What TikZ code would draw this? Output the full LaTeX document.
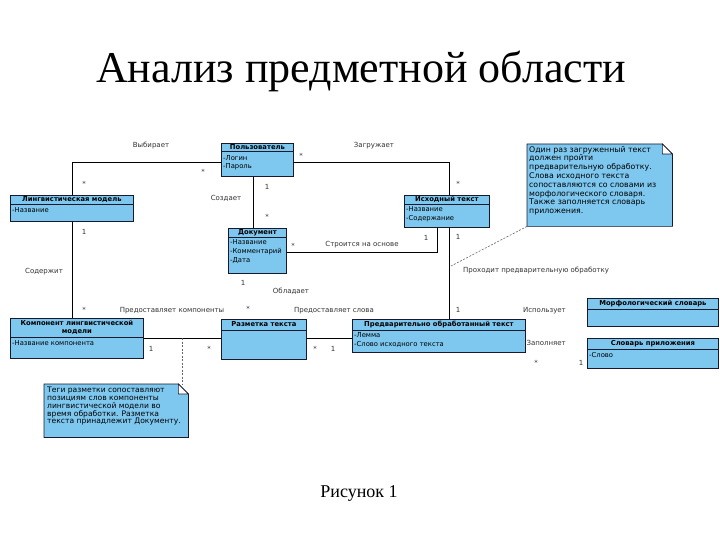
\documentclass[tikz,border=0pt]{standalone}
\usepackage{fontspec}
\setmainfont{Liberation Serif}
\newfontfamily\dvs{DejaVu Sans}
\usetikzlibrary{calc}
\definecolor{umlblue}{RGB}{126,200,240}
\definecolor{umlline}{RGB}{25,25,45}
\begin{document}
\begin{tikzpicture}[x=1pt,y=-1pt,
  cls/.style={draw=umlline,fill=umlblue,line width=0.8pt,inner sep=0pt,anchor=north west},
  hdr/.style={font=\dvs\bfseries\fontsize{6.8}{8}\selectfont,inner sep=0pt,align=center},
  attr/.style={font=\dvs\fontsize{6.8}{8}\selectfont,inner sep=0pt,anchor=west},
  lbl/.style={font=\dvs\fontsize{7}{8}\selectfont,inner sep=0pt,text=black!80},
  conn/.style={line width=0.8pt,draw=black},
  dashconn/.style={draw=black!60,line width=0.6pt,dash pattern=on 2pt off 1.5pt},
  sepline/.style={draw=umlline,line width=0.6pt},
  notebox/.style={inner sep=0pt,anchor=north west},
  notetxt/.style={font=\dvs\fontsize{7.8}{8.8}\selectfont,inner sep=0pt,anchor=north west,align=left}
]
\fill[white] (0,0) rectangle (720,540);
\useasboundingbox (0,0) rectangle (720,540);

% Title and caption
\node[font=\fontsize{44}{48}\selectfont,inner sep=0pt] (title) at (361,71) {Анализ предметной области};
\node[font=\fontsize{18}{20}\selectfont,inner sep=0pt] (cap) at (359,493) {Рисунок 1};

% ---------- classes ----------
% Пользователь
\node[cls,minimum width=72pt,minimum height=33pt] (user) at (221,143) {};
\draw[sepline] ($(user.north west)+(0,8)$) -- ($(user.north east)+(0,8)$);
\node[hdr] (userh) at ($(user.north)+(0,4.2)$) {Пользователь};
\node[attr] (usera1) at ($(user.north west)+(2,15)$) {-Логин};
\node[attr] (usera2) at ($(user.north west)+(2,24)$) {-Пароль};

% Лингвистическая модель
\node[cls,minimum width=123pt,minimum height=26pt] (ling) at (10,195) {};
\draw[sepline] ($(ling.north west)+(0,9)$) -- ($(ling.north east)+(0,9)$);
\node[hdr] (lingh) at ($(ling.north)+(0,4.7)$) {Лингвистическая модель};
\node[attr] (linga1) at ($(ling.north west)+(2,15.5)$) {-Название};

% Исходный текст
\node[cls,minimum width=85pt,minimum height=32pt] (src) at (404,195) {};
\draw[sepline] ($(src.north west)+(0,9)$) -- ($(src.north east)+(0,9)$);
\node[hdr] (srch) at ($(src.north)+(0,4.7)$) {Исходный текст};
\node[attr] (srca1) at ($(src.north west)+(2,14.5)$) {-Название};
\node[attr] (srca2) at ($(src.north west)+(2,23.5)$) {-Содержание};

% Документ
\node[cls,minimum width=58pt,minimum height=45pt] (doc) at (228,228) {};
\draw[sepline] ($(doc.north west)+(0,9)$) -- ($(doc.north east)+(0,9)$);
\node[hdr] (doch) at ($(doc.north)+(0,4.7)$) {Документ};
\node[attr] (doca1) at ($(doc.north west)+(2,14.5)$) {-Название};
\node[attr] (doca2) at ($(doc.north west)+(2,23.5)$) {-Комментарий};
\node[attr] (doca3) at ($(doc.north west)+(2,32.5)$) {-Дата};

% Компонент лингвистической модели
\node[cls,minimum width=133pt,minimum height=40pt] (comp) at (10,318) {};
\draw[sepline] ($(comp.north west)+(0,19)$) -- ($(comp.north east)+(0,19)$);
\node[hdr] (comph) at ($(comp.north)+(0,9.5)$) {Компонент лингвистической\\модели};
\node[attr] (compa1) at ($(comp.north west)+(2,25)$) {-Название компонента};

% Разметка текста
\node[cls,minimum width=85pt,minimum height=40pt] (markup) at (221,319) {};
\draw[sepline] ($(markup.north west)+(0,11)$) -- ($(markup.north east)+(0,11)$);
\node[hdr] (markuph) at ($(markup.north)+(0,5.5)$) {Разметка текста};

% Предварительно обработанный текст
\node[cls,minimum width=173pt,minimum height=33pt] (pre) at (352,319) {};
\draw[sepline] ($(pre.north west)+(0,11)$) -- ($(pre.north east)+(0,11)$);
\node[hdr] (preh) at ($(pre.north)+(0,5.5)$) {Предварительно обработанный текст};
\node[attr] (prea1) at ($(pre.north west)+(2,16)$) {-Лемма};
\node[attr] (prea2) at ($(pre.north west)+(2,25.5)$) {-Слово исходного текста};

% Морфологический словарь
\node[cls,minimum width=131pt,minimum height=28pt] (morph) at (587,298) {};
\draw[sepline] ($(morph.north west)+(0,11)$) -- ($(morph.north east)+(0,11)$);
\node[hdr] (morphh) at ($(morph.north)+(0,5.5)$) {Морфологический словарь};

% Словарь приложения
\node[cls,minimum width=131pt,minimum height=30pt] (dict) at (587,338) {};
\draw[sepline] ($(dict.north west)+(0,11)$) -- ($(dict.north east)+(0,11)$);
\node[hdr] (dicth) at ($(dict.north)+(0,5.5)$) {Словарь приложения};
\node[attr] (dicta1) at ($(dict.north west)+(2,17)$) {-Слово};

% ---------- notes ----------
\node[notebox,minimum width=145pt,minimum height=82pt] (noteA) at (527,144) {};
\filldraw[fill=umlblue,draw=umlline,line width=0.7pt]
  (noteA.north west) -- ($(noteA.north east)+(-10,0)$) -- ($(noteA.north east)+(0,10)$)
  -- (noteA.south east) -- (noteA.south west) -- cycle;
\filldraw[fill=white,draw=umlline,line width=0.6pt]
  ($(noteA.north east)+(-10,0)$) -- ($(noteA.north east)+(-10,10)$) -- ($(noteA.north east)+(0,10)$) -- cycle;
\node[notetxt] (noteAt) at ($(noteA.north west)+(2,2)$) {Один раз загруженный текст\\должен пройти\\предварительную обработку.\\Слова исходного текста\\сопоставляются со словами из\\морфологического словаря.\\Также заполняется словарь\\приложения.};

\node[notebox,minimum width=144pt,minimum height=53pt] (noteB) at (44,384) {};
\filldraw[fill=umlblue,draw=umlline,line width=0.7pt]
  (noteB.north west) -- ($(noteB.north east)+(-10,0)$) -- ($(noteB.north east)+(0,10)$)
  -- (noteB.south east) -- (noteB.south west) -- cycle;
\filldraw[fill=white,draw=umlline,line width=0.6pt]
  ($(noteB.north east)+(-10,0)$) -- ($(noteB.north east)+(-10,10)$) -- ($(noteB.north east)+(0,10)$) -- cycle;
\node[notetxt,font=\dvs\fontsize{7.6}{7.8}\selectfont] (noteBt) at ($(noteB.north west)+(3,3)$) {Теги разметки сопоставляют\\позициям слов компоненты\\лингвистической модели во\\время обработки. Разметка\\текста принадлежит Документу.};

% ---------- connectors ----------
\draw[conn] ([yshift=-2.5pt]user.west) -| (ling.north);
\draw[conn] ([yshift=-2.5pt]user.east) -| ([xshift=2.5pt]src.north);
\draw[conn] ([xshift=-4pt]user.south) -- ([xshift=-4pt]user.south |- doc.north);
\draw[conn] ([yshift=-1.5pt]doc.east) -| ([xshift=-9.5pt]src.south);
\draw[conn] (ling.south) -- (ling.south |- comp.north);
\draw[conn] ([xshift=2.5pt]src.south) -- ([xshift=2.5pt]src.south |- pre.north);
\draw[conn] (comp.east) -- (comp.east -| markup.west);
\draw[conn] (markup.east |- comp.east) -- (pre.west |- comp.east);

\coordinate (pA) at (451,266);
\draw[dashconn] (noteA.south west) -- (pA);
\coordinate (pB) at (182,338);
\draw[dashconn] (pB) -- (pB |- noteB.north);

% ---------- labels ----------
\node[lbl] (l1) at (151,146) {Выбирает};
\node[lbl] (l2) at (374,146) {Загружает};
\node[lbl] (l3) at (226,198) {Создает};
\node[lbl] (l4) at (362,245) {Строится на основе};
\node[lbl,anchor=west] (l5) at (463,271) {Проходит предварительную обработку};
\node[lbl] (l6) at (44,272) {Содержит};
\node[lbl] (l7) at (291,291) {Обладает};
\node[lbl] (l8) at (172,311) {Предоставляет компоненты};
\node[lbl] (l9) at (334,311) {Предоставляет слова};
\node[lbl,anchor=east] (l10) at (566,311) {Использует};
\node[lbl,anchor=east] (l11) at (566,343) {Заполняет};

% multiplicities
\node[lbl] (m1) at (203,172) {*};
\node[lbl] (m2) at (84,184) {*};
\node[lbl] (m3) at (301,156) {*};
\node[lbl] (m4) at (458,184) {*};
\node[lbl] (m5) at (267,187) {1};
\node[lbl] (m6) at (267,217) {*};
\node[lbl] (m7) at (293,246) {*};
\node[lbl] (m8) at (426,238) {1};
\node[lbl] (m9) at (458,237) {1};
\node[lbl] (m10) at (458,310) {1};
\node[lbl] (m11) at (84,232) {1};
\node[lbl] (m12) at (84,310) {*};
\node[lbl] (m13) at (243,283) {1};
\node[lbl] (m14) at (248,309) {*};
\node[lbl] (m15) at (151,349) {1};
\node[lbl] (m16) at (209,349) {*};
\node[lbl] (m17) at (315,349) {*};
\node[lbl] (m18) at (333,349) {1};
\node[lbl] (m19) at (536,363) {*};
\node[lbl] (m20) at (581,363) {1};
\end{tikzpicture}
\end{document}
